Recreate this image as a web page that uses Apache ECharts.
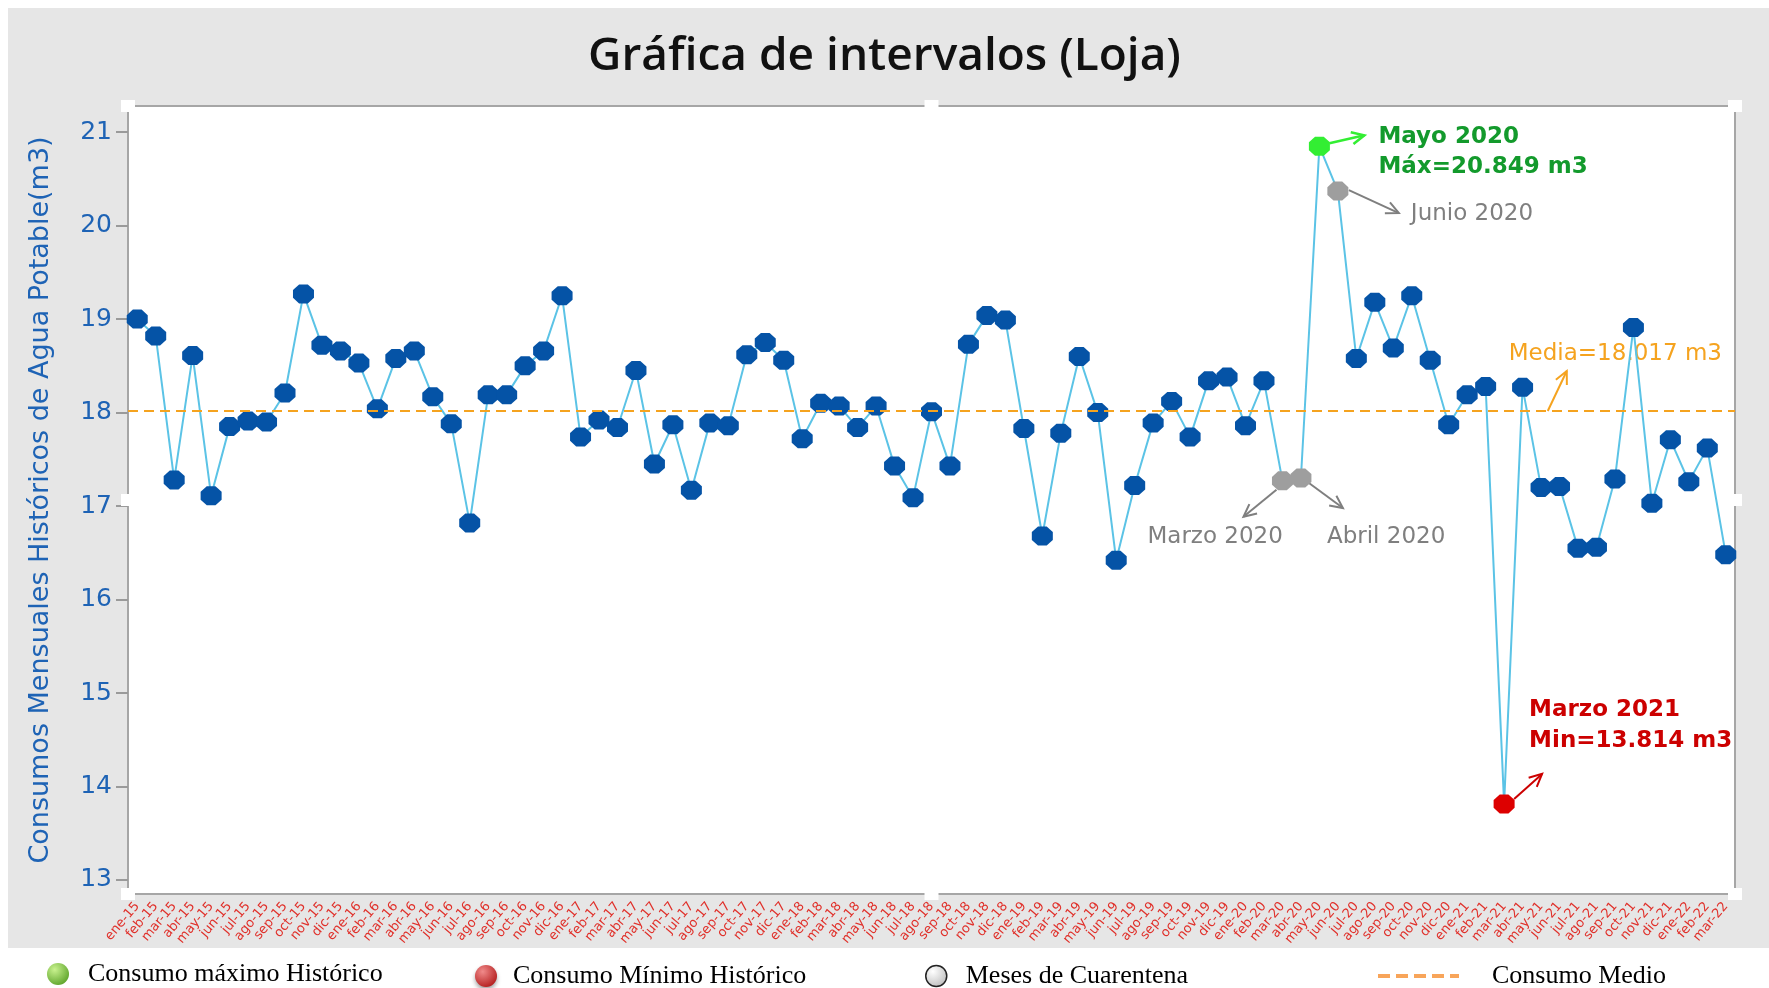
<!DOCTYPE html>
<html>
<head>
<meta charset="utf-8">
<script src="https://cdn.jsdelivr.net/npm/echarts@6.0.0/dist/echarts.min.js"></script>
<style>
  html, body { margin: 0; padding: 0; background: #fff; }
  .backdrop { position: absolute; left: 8px; top: 8px; width: 1761px; height: 940px; background: #e6e6e6; }
  #chart { position: absolute; left: 0; top: 0; width: 1769px; height: 988px; }
</style>
</head>
<body>
<div class="backdrop"></div>
<div id="chart"></div>
<script>
  // meses ene-15 .. mar-22
  const categories = [
    'ene-15', 'feb-15', 'mar-15', 'abr-15', 'may-15', 'jun-15', 'jul-15', 'ago-15', 'sep-15', 'oct-15', 'nov-15', 'dic-15',
    'ene-16', 'feb-16', 'mar-16', 'abr-16', 'may-16', 'jun-16', 'jul-16', 'ago-16', 'sep-16', 'oct-16', 'nov-16', 'dic-16',
    'ene-17', 'feb-17', 'mar-17', 'abr-17', 'may-17', 'jun-17', 'jul-17', 'ago-17', 'sep-17', 'oct-17', 'nov-17', 'dic-17',
    'ene-18', 'feb-18', 'mar-18', 'abr-18', 'may-18', 'jun-18', 'jul-18', 'ago-18', 'sep-18', 'oct-18', 'nov-18', 'dic-18',
    'ene-19', 'feb-19', 'mar-19', 'abr-19', 'may-19', 'jun-19', 'jul-19', 'ago-19', 'sep-19', 'oct-19', 'nov-19', 'dic-19',
    'ene-20', 'feb-20', 'mar-20', 'abr-20', 'may-20', 'jun-20', 'jul-20', 'ago-20', 'sep-20', 'oct-20', 'nov-20', 'dic-20',
    'ene-21', 'feb-21', 'mar-21', 'abr-21', 'may-21', 'jun-21', 'jul-21', 'ago-21', 'sep-21', 'oct-21', 'nov-21', 'dic-21',
    'ene-22', 'feb-22', 'mar-22'
  ]

  // consumo mensual (m3) por año
  const consumo2015 = [19.00, 18.82, 17.28, 18.61, 17.11, 17.85, 17.91, 17.90, 18.21, 19.27, 18.72, 18.66]
  const consumo2016 = [18.53, 18.04, 18.58, 18.66, 18.17, 17.88, 16.82, 18.19, 18.19, 18.50, 18.66, 19.25]
  const consumo2017 = [17.74, 17.92, 17.84, 18.45, 17.45, 17.87, 17.17, 17.89, 17.86, 18.62, 18.75, 18.56]
  const consumo2018 = [17.72, 18.10, 18.07, 17.84, 18.07, 17.43, 17.09, 18.01, 17.43, 18.73, 19.04, 18.99]
  const consumo2019 = [17.83, 16.68, 17.78, 18.60, 18.00, 16.42, 17.22, 17.89, 18.12, 17.74, 18.34, 18.38]
  const consumo2020 = [17.86, 18.34, 17.27, 17.30, 20.849, 20.37, 18.58, 19.18, 18.69, 19.25, 18.56, 17.87]
  const consumo2021 = [18.19, 18.28, 13.814, 18.27, 17.20, 17.21, 16.55, 16.56, 17.29, 18.91, 17.03, 17.71]
  const consumo2022 = [17.26, 17.62, 16.48]

  const consumo = [].concat(consumo2015, consumo2016, consumo2017, consumo2018,
    consumo2019, consumo2020, consumo2021, consumo2022)

  const yTicks = [13, 14, 15, 16, 17, 18, 19, 20, 21]
  const meanValue = 18.017
  const quarantineMonths = ['mar-20', 'abr-20', 'jun-20']

  const maxIdx = consumo.indexOf(Math.max(...consumo))
  const minIdx = consumo.indexOf(Math.min(...consumo))
  const quarantineIdx = quarantineMonths.map(m => categories.indexOf(m))
  const specialIdx = [maxIdx, minIdx].concat(quarantineIdx)

  const octagon = 'path://M29.3,0 L70.7,0 L100,29.3 L100,70.7 L70.7,100 L29.3,100 L0,70.7 L0,29.3 Z'
  const blue = '#1e63b5'

  const chart = echarts.init(document.getElementById('chart'))

  function ball (c1, c2) {
    return {
      type: 'radial', x: 0.35, y: 0.3, r: 0.75,
      colorStops: [{ offset: 0, color: c1 }, { offset: 1, color: c2 }]
    }
  }

  const legendText = {
    fontFamily: 'Liberation Serif',
    fontSize: 26,
    color: '#000'
  }

  const option = {
    backgroundColor: 'transparent',
    animation: false,
    title: {
      text: 'Gráfica de intervalos (Loja)',
      left: 'center',
      top: 29,
      textStyle: {
        fontFamily: 'Open Sans',
        fontWeight: 600,
        fontSize: 46,
        color: '#111'
      }
    },
    grid: {
      left: 128,
      right: 34,
      top: 106,
      bottom: 94,
      show: true,
      backgroundColor: '#fff',
      borderColor: '#a6a6a6',
      borderWidth: 2
    },
    legend: [
      {
        data: [{ name: 'Consumo máximo Histórico', icon: 'circle', itemStyle: { color: ball('#c9f28f', '#5fa52c') } }],
        left: 42, top: 956, itemWidth: 22, itemHeight: 22, selectedMode: false,
        textStyle: Object.assign({ padding: [0, 0, 0, 14] }, legendText)
      },
      {
        data: [{ name: 'Consumo Mínimo Histórico', icon: 'circle', itemStyle: { color: ball('#f08a8a', '#b51f1f'), shadowBlur: 4, shadowColor: 'rgba(0,0,0,0.35)', shadowOffsetY: 3 } }],
        left: 470, top: 958, itemWidth: 22, itemHeight: 22, selectedMode: false,
        textStyle: Object.assign({ padding: [0, 0, 0, 11] }, legendText)
      },
      {
        data: [{ name: 'Meses de Cuarentena', icon: 'circle', itemStyle: { color: ball('#ffffff', '#bdbdbd'), borderColor: '#222', borderWidth: 1.5 } }],
        left: 920, top: 958, itemWidth: 21, itemHeight: 21, selectedMode: false,
        textStyle: Object.assign({ padding: [0, 0, 0, 14] }, legendText)
      },
      {
        data: [{ name: 'Consumo Medio' }],
        left: 1371, top: 958, itemWidth: 81, itemHeight: 22, selectedMode: false,
        itemStyle: { opacity: 0 },
        lineStyle: { width: 4, type: [12, 6], color: '#f8a55a' },
        textStyle: Object.assign({ padding: [0, 0, 0, 28] }, legendText)
      }
    ],
    xAxis: {
      type: 'category',
      data: categories,
      boundaryGap: true,
      axisLine: { lineStyle: { color: '#a6a6a6', width: 2 } },
      axisTick: { alignWithLabel: true, length: 7, lineStyle: { color: '#a6a6a6', width: 2 } },
      axisLabel: {
        interval: 0,
        rotate: 50,
        margin: 10,
        color: '#e0302a',
        fontFamily: 'DejaVu Sans',
        fontSize: 13
      }
    },
    yAxis: {
      type: 'value',
      min: 12.85,
      max: 21.28,
      name: 'Consumos Mensuales Históricos de Agua Potable(m3)',
      nameLocation: 'middle',
      nameGap: 74,
      nameTextStyle: {
        color: blue,
        fontFamily: 'DejaVu Sans',
        fontSize: 27
      },
      splitLine: { show: false },
      axisLine: { show: true, lineStyle: { color: '#a6a6a6', width: 2 } },
      axisTick: { show: true, length: 12, customValues: yTicks, lineStyle: { color: '#9a9a9a', width: 2 } },
      axisLabel: {
        customValues: yTicks,
        margin: 16,
        color: blue,
        fontFamily: 'DejaVu Sans',
        fontSize: 25
      }
    },
    series: [
      {
        name: 'Consumo',
        type: 'line',
        data: consumo.map((v, i) => specialIdx.includes(i) ? { value: v, symbol: 'none' } : v),
        symbol: octagon,
        symbolSize: [21, 19],
        showAllSymbol: true,
        itemStyle: { color: '#0553a6' },
        lineStyle: { color: '#5bc3e6', width: 2 },
        z: 2
      },
      {
        name: 'Consumo Medio',
        type: 'line',
        data: [],
        symbol: 'none',
        lineStyle: { color: '#f5a31f', type: 'dashed', width: 2 },
        itemStyle: { color: '#f5a31f' },
        markLine: {
          silent: true,
          symbol: 'none',
          label: { show: false },
          lineStyle: { color: '#f5a31f', type: [10, 6], width: 2 },
          data: [{ yAxis: meanValue }]
        },
        z: 1
      },
      {
        name: 'Consumo máximo Histórico',
        type: 'scatter',
        data: consumo.map((v, i) => i === maxIdx ? v : '-'),
        symbol: octagon,
        symbolSize: [21, 19],
        itemStyle: { color: '#33ee33', opacity: 1 },
        z: 3
      },
      {
        name: 'Consumo Mínimo Histórico',
        type: 'scatter',
        data: consumo.map((v, i) => i === minIdx ? v : '-'),
        symbol: octagon,
        symbolSize: [21, 19],
        itemStyle: { color: '#dd0000', opacity: 1 },
        z: 3
      },
      {
        name: 'Meses de Cuarentena',
        type: 'scatter',
        data: consumo.map((v, i) => quarantineIdx.includes(i) ? v : '-'),
        symbol: octagon,
        symbolSize: [21, 19],
        itemStyle: { color: '#9e9e9e', opacity: 1 },
        z: 3
      }
    ]
  }

  chart.setOption(option)

  // anotaciones: flechas y textos junto a los puntos
  function px (i, v) {
    return chart.convertToPixel({ xAxisIndex: 0, yAxisIndex: 0 }, [categories[i], v])
  }

  function arrow (p, d1, d2, color, w) {
    const x1 = p[0] + d1[0], y1 = p[1] + d1[1]
    const x2 = p[0] + d2[0], y2 = p[1] + d2[1]
    const a = Math.atan2(y2 - y1, x2 - x1)
    const h = 14, s = 0.45
    return {
      type: 'group',
      silent: true,
      children: [
        { type: 'line', shape: { x1, y1, x2, y2 }, style: { stroke: color, lineWidth: w || 2 } },
        {
          type: 'polyline',
          shape: {
            points: [
              [x2 - h * Math.cos(a - s), y2 - h * Math.sin(a - s)],
              [x2, y2],
              [x2 - h * Math.cos(a + s), y2 - h * Math.sin(a + s)]
            ]
          },
          style: { stroke: color, lineWidth: w || 2, fill: null }
        }
      ]
    }
  }

  function note (p, d, text, color, bold) {
    return {
      type: 'text',
      silent: true,
      x: p[0] + d[0],
      y: p[1] + d[1],
      style: {
        text,
        fill: color,
        font: (bold ? 'bold ' : '') + '23px "DejaVu Sans"',
        verticalAlign: 'middle'
      }
    }
  }

  // cuadritos blancos de selección en el marco del gráfico
  function handle (x, y) {
    return { type: 'rect', silent: true, z: 10, shape: { x: x - 7, y: y - 6, width: 14, height: 12 }, style: { fill: '#fff' } }
  }

  const pMax = px(maxIdx, consumo[maxIdx])
  const pMin = px(minIdx, consumo[minIdx])
  const pMar = px(quarantineIdx[0], consumo[quarantineIdx[0]])
  const pAbr = px(quarantineIdx[1], consumo[quarantineIdx[1]])
  const pJun = px(quarantineIdx[2], consumo[quarantineIdx[2]])
  const pMean = px(categories.length - 1, meanValue)

  const green = '#139a2c'
  const red = '#cc0000'
  const gray = '#7f7f7f'
  const orange = '#f5a31f'

  const gl = 128, gr = 1735, gt = 106, gb = 894
  const gm = (gl + gr) / 2, gv = (gt + gb) / 2

  chart.setOption({
    graphic: [
      handle(gl, gt), handle(gm, gt), handle(gr, gt),
      handle(gl, gv), handle(gr, gv),
      handle(gl, gb), handle(gm, gb), handle(gr, gb),
      arrow(pMax, [10, -3], [45, -11], '#33ee33', 2.5),
      note(pMax, [59, -9], 'Mayo 2020', green, true),
      note(pMax, [59, 21], 'Máx=' + consumo[maxIdx].toFixed(3) + ' m3', green, true),
      arrow(pJun, [11, -1], [61, 22], gray),
      note(pJun, [73, 23], 'Junio 2020', gray, false),
      arrow(pMar, [-6, 9], [-39, 36], gray),
      note(pMar, [-135, 56], 'Marzo 2020', gray, false),
      arrow(pAbr, [8, 5], [42, 30], gray),
      note(pAbr, [26, 59], 'Abril 2020', gray, false),
      arrow(pMean, [-178, 0], [-159, -40], orange),
      note(pMean, [-217, -57], 'Media=' + meanValue.toFixed(3) + ' m3', orange, false),
      arrow(pMin, [10, -5], [38, -30], red),
      note(pMin, [25, -94], 'Marzo 2021', red, true),
      note(pMin, [25, -63], 'Min=' + consumo[minIdx].toFixed(3) + ' m3', red, true)
    ]
  })
</script>
</body>
</html>
